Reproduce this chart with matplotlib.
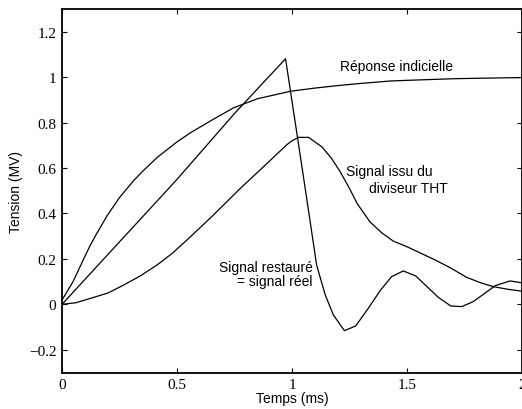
import matplotlib
matplotlib.use("Agg")
import matplotlib.pyplot as plt

# Réponse indicielle
t_step = [0.0, 0.048, 0.099, 0.123, 0.15, 0.196, 0.25, 0.312, 0.35, 0.413, 0.5, 0.558, 0.65,
          0.746, 0.85, 0.994, 1.1, 1.2, 1.283, 1.426, 1.5, 1.70, 1.8, 1.99]
v_step = [0.019, 0.10, 0.21, 0.26, 0.31, 0.39, 0.47, 0.545, 0.585, 0.646, 0.715, 0.755, 0.81,
          0.865, 0.905, 0.938, 0.952, 0.963, 0.971, 0.983, 0.986, 0.993, 0.995, 0.998]

# Signal restauré = signal réel
t_rest = [0.0, 0.25, 0.50, 0.75, 0.972, 1.028, 1.064, 1.107, 1.145, 1.180, 1.228, 1.277, 1.33, 1.383,
          1.433, 1.484, 1.538, 1.59, 1.636, 1.690, 1.738, 1.788, 1.84, 1.883, 1.948, 1.999]
v_rest = [0.0, 0.275, 0.55, 0.84, 1.081, 0.707, 0.466, 0.173, 0.04, -0.047, -0.116, -0.095, -0.02, 0.060,
          0.122, 0.147, 0.125, 0.075, 0.031, -0.007, -0.010, 0.012, 0.05, 0.082, 0.103, 0.095]

# Signal issu du diviseur THT
t_div = [0.0, 0.06, 0.123, 0.2, 0.268, 0.34, 0.413, 0.48, 0.543, 0.65, 0.775, 0.87, 0.978, 1.0,
         1.029, 1.072, 1.130, 1.17, 1.210, 1.25, 1.283, 1.339, 1.39, 1.441, 1.499, 1.56, 1.623,
         1.69, 1.759, 1.82, 1.875, 1.94, 1.999]
v_div = [0.0, 0.007, 0.026, 0.05, 0.085, 0.125, 0.173, 0.225, 0.283, 0.385, 0.510, 0.60, 0.703, 0.72,
         0.735, 0.735, 0.693, 0.645, 0.583, 0.51, 0.444, 0.363, 0.315, 0.278, 0.254, 0.225, 0.195,
         0.16, 0.119, 0.095, 0.078, 0.066, 0.058]

xticks = [0, 0.5, 1, 1.5, 2]
xticklabels = ["0", "0.5", "1", "1.5", "2"]
yticks = [-0.2, 0, 0.2, 0.4, 0.6, 0.8, 1.0, 1.2]
yticklabels = ["\u22120.2", "0", "0.2", "0.4", "0.6", "0.8", "1", "1.2"]

fig = plt.figure(figsize=(5.22, 4.10), dpi=100)
ax = fig.add_axes([62 / 522, 36.5 / 410, 460 / 522, 363.5 / 410])

for t, v in [(t_step, v_step), (t_rest, v_rest), (t_div, v_div)]:
    ax.plot(t, v, color="black", linewidth=0.9)

ax.set_xlim(0, 2)
ax.set_ylim(-0.3, 1.3)
ax.set_xticks(xticks)
ax.set_xticklabels(xticklabels)
ax.set_yticks(yticks)
ax.set_yticklabels(yticklabels)
ax.tick_params(direction="in", length=3.5, width=0.8, top=True, right=True,
               labelsize=11, pad=4)
for lab in ax.get_xticklabels() + ax.get_yticklabels():
    lab.set_fontfamily("Liberation Serif")
for s in ax.spines.values():
    s.set_linewidth(1.3)

sans = "Liberation Sans"
ax.set_xlabel("Temps (ms)", fontsize=10, family=sans, labelpad=0)
ax.set_ylabel("Tension (MV)", fontsize=10, family=sans, labelpad=4)

ax.text(1.209, 1.05, "Réponse indicielle", fontsize=10, family=sans, ha="left", va="center")
ax.text(1.236, 0.589, "Signal issu du", fontsize=10, family=sans, ha="left", va="center")
ax.text(1.336, 0.512, "diviseur THT", fontsize=10, family=sans, ha="left", va="center")
ax.text(1.09, 0.166, "Signal restauré", fontsize=10, family=sans, ha="right", va="center")
ax.text(1.09, 0.103, "= signal réel", fontsize=10, family=sans, ha="right", va="center")

fig.savefig("out.png", dpi=100)
